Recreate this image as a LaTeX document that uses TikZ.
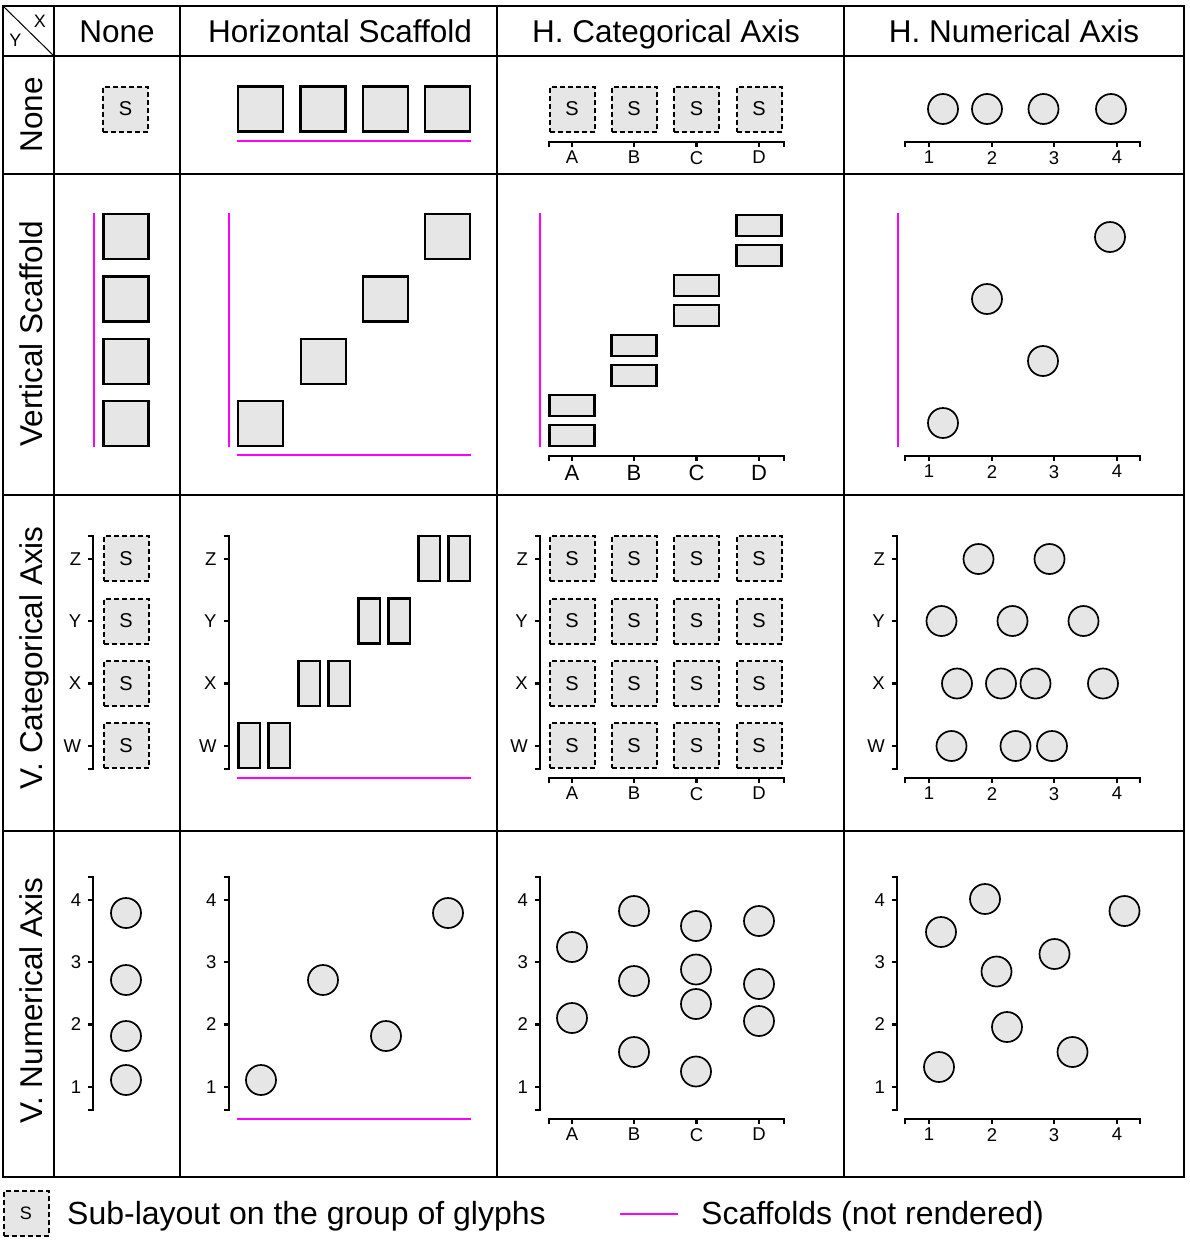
\documentclass[tikz,border=0pt]{standalone}
\usepackage{fontspec}
\setmainfont{Liberation Sans}
\usetikzlibrary{positioning}
\definecolor{glyphgray}{RGB}{230,230,230}
\definecolor{scaffoldpink}{RGB}{255,0,255}
\tikzset{
x=1pt, y=-1pt, % pixel-like units, y grows downwards
glyph/.style={draw, line width=2.2pt, fill=glyphgray, inner sep=0pt, minimum width=45pt, minimum height=45pt}, % a plain glyph
wideglyph/.style={glyph, minimum height=21.5pt}, % half-height glyph
tallglyph/.style={glyph, minimum width=21.5pt}, % half-width glyph
sublayout/.style={draw, line width=2pt, dash pattern=on 5pt off 3pt, fill=glyphgray, inner sep=0pt, minimum width=45pt, minimum height=45pt, font=\fontsize{20}{24}\selectfont}, % group with its own layout
dotglyph/.style={circle, draw, line width=1.7pt, fill=glyphgray, minimum size=30pt, inner sep=0pt},
axisline/.style={line width=2.2pt},
ticklabel/.style={inner sep=0pt, font=\fontsize{18.5}{21}\selectfont},
biglabel/.style={font=\fontsize{22}{24}\selectfont},
scaffold/.style={scaffoldpink, line width=2pt}, % scaffold lines, not rendered
colhead/.style={anchor=base, inner sep=0pt, font=\fontsize{31.5}{36}\selectfont},
rowhead/.style={colhead, rotate=90},
keytext/.style={colhead, anchor=base west, font=\fontsize{32}{36}\selectfont},
gridline/.style={line width=1.4pt},
boldline/.style={line width=2.8pt},
}
% horizontal categorical axis: #1 label style, #2 name prefix, #3 y
\newcommand{\hcataxis}[3][]{%
  \draw[axisline] (549,#3+5) -- (549,#3) -- (784,#3) -- (784,#3+5);
  \foreach \lab/\x in {A/572,B/634,C/696.5,D/759}{
    \draw[axisline] (\x,#3) -- (\x,#3+5);
    \node[ticklabel, #1, anchor=north] (#2-\lab) at (\x,#3+9) {\lab};
  }}
% horizontal numerical axis: #1 name prefix, #2 y
\newcommand{\hnumaxis}[2]{%
  \draw[axisline] (905,#2+5) -- (905,#2) -- (1140,#2) -- (1140,#2+5);
  \foreach \lab/\x in {1/929,2/992,3/1054,4/1117}{
    \draw[axisline] (\x,#2) -- (\x,#2+5);
    \node[ticklabel, anchor=north] (#1-\lab) at (\x,#2+9) {\lab};
  }}
% vertical categorical axis: #1 name prefix, #2 x
\newcommand{\vcataxis}[2]{%
  \draw[axisline] (#2-5,536) -- (#2,536) -- (#2,769) -- (#2-5,769);
  \foreach \lab/\y in {Z/559,Y/621,X/683.5,W/746}{
    \draw[axisline] (#2-5,\y) -- (#2,\y);
    \node[ticklabel, anchor=east] (#1-\lab) at (#2-12,\y) {\lab};
  }}
% vertical numerical axis: #1 name prefix, #2 x
\newcommand{\vnumaxis}[2]{%
  \draw[axisline] (#2-5,877) -- (#2,877) -- (#2,1110) -- (#2-5,1110);
  \foreach \lab/\y in {4/900,3/962,2/1024.5,1/1087}{
    \draw[axisline] (#2-5,\y) -- (#2,\y);
    \node[ticklabel, anchor=east] (#1-\lab) at (#2-12,\y) {\lab};
  }}

\begin{document}
\begin{tikzpicture}
\useasboundingbox (0,0) rectangle (1190,1245);

% Table
\draw[boldline] (3,6) rectangle (1184,1177);
\draw[boldline] (3,56) -- (1184,56);
\draw[boldline] (54,6) -- (54,1177);
\foreach \x in {180,497,844} \draw[gridline] (\x,6) -- (\x,1177);
\foreach \y in {174,495,831} \draw[gridline] (3,\y) -- (1184,\y);
\draw[line width=1pt] (3,6) -- (54,56);
\node[font=\fontsize{18}{20}\selectfont] (corner-x) at (40,21) {X};
\node[font=\fontsize{18}{20}\selectfont] (corner-y) at (15.5,40) {Y};

% Heads
\node[colhead] (head-none) at (117,42) {None};
\node[colhead] (head-hs) at (340,42) {Horizontal Scaffold};
\node[colhead] (head-hcat) at (666,42) {H. Categorical Axis};
\node[colhead] (head-hnum) at (1014,42) {H. Numerical Axis};
\node[rowhead] (row-none) at (42,115) {None};
\node[rowhead] (row-vs) at (42,334) {Vertical Scaffold};
\node[rowhead] (row-vcat) at (42,658) {V. Categorical Axis};
\node[rowhead] (row-vnum) at (42,1001) {V. Numerical Axis};

% Row: None
\node[sublayout] (none-none) at (125.5,109) {S};
\foreach \i/\x in {1/260.5,2/323,3/385.5,4/447.5}
  \node[glyph] (none-hs-\i) at (\x,109) {};
\draw[scaffold] (237,141) -- (471,141);
\foreach \i/\x in {A/572,B/634,C/696.5,D/759}
  \node[sublayout] (none-hcat-\i) at (\x,109) {S};
\hcataxis{none-hcat}{142}
\foreach \i/\x in {1/943,2/987,3/1043.5,4/1111}
  \node[dotglyph] (none-hnum-\i) at (\x,109) {};
\hnumaxis{none-hnum}{142}

% Row: Vertical Scaffold
\draw[scaffold] (94,213) -- (94,447);
\foreach \i/\y in {1/423.5,2/361.3,3/299,4/236.7}
  \node[glyph] (vs-none-\i) at (126,\y) {};
\draw[scaffold] (229,213) -- (229,447);
\draw[scaffold] (237,455) -- (471,455);
\foreach \i/\x/\y in {1/260.5/423.5,2/323.5/361.5,3/385.5/299,4/447.5/236.7}
  \node[glyph] (vs-hs-\i) at (\x,\y) {};
\draw[scaffold] (540,213) -- (540,447);
\foreach \i/\x/\y in {A/572/435.4,B/634/375.4,C/696.5/315.4,D/759/255.4}{
  \node[wideglyph] (vs-hcat-\i1) at (\x,\y) {};
  \node[wideglyph] (vs-hcat-\i2) at (\x,\y-30) {};
}
\hcataxis[biglabel]{vs-hcat}{456}
\draw[scaffold] (898,213) -- (898,447);
\foreach \i/\x/\y in {1/943/423,2/987/299,3/1043/361,4/1110/237}
  \node[dotglyph] (vs-hnum-\i) at (\x,\y) {};
\hnumaxis{vs-hnum}{456}

% Row: V. Categorical Axis
\vcataxis{vcat-none}{93.3}
\foreach \i/\y in {Z/558.5,Y/621,X/683.5,W/745.5}
  \node[sublayout] (vcat-none-\i S) at (126,\y) {S};
\vcataxis{vcat-hs}{228.7}
\foreach \i/\x/\y in {W/249.3/745.7,X/309.3/683.5,Y/369.3/621,Z/429.3/558.7}{
  \node[tallglyph] (vcat-hs-\i1) at (\x,\y) {};
  \node[tallglyph] (vcat-hs-\i2) at (\x+30,\y) {};
}
\draw[scaffold] (237,778) -- (471,778);
\vcataxis{vcat-hcat}{540}
\foreach \r/\y in {Z/558.5,Y/621,X/683.5,W/745.5}
  \foreach \c/\x in {A/572,B/634,C/696.5,D/759}
    \node[sublayout] (vcat-hcat-\c\r) at (\x,\y) {S};
\hcataxis{vcat-hcat}{778}
\vcataxis{vcat-hnum}{897}
\foreach \i/\x/\y in {1/978.5/559,2/1049.5/559,3/941.5/621,4/1012.5/621,5/1083.5/621,
  6/957/683.5,7/1001/683.5,8/1035.5/683.5,9/1103/683.5,10/951.5/746,11/1015.5/746,12/1052/746}
  \node[dotglyph] (vcat-hnum-\i) at (\x,\y) {};
\hnumaxis{vcat-hnum}{778}

% Row: V. Numerical Axis
\vnumaxis{vnum-none}{93.3}
\foreach \i/\y in {1/1080,2/1036,3/980,4/913}
  \node[dotglyph] (vnum-none-\i d) at (126,\y) {};
\vnumaxis{vnum-hs}{228.7}
\foreach \i/\x/\y in {1/261/1080,2/323/980,3/386/1036,4/448/913}
  \node[dotglyph] (vnum-hs-\i d) at (\x,\y) {};
\draw[scaffold] (237,1119) -- (471,1119);
\vnumaxis{vnum-hcat}{540}
\foreach \i/\x/\y in {1/572/947,2/572/1018,3/634/911,4/634/981,5/634/1052,6/696/926,
  7/696/969.5,8/696/1004,9/696/1071.5,10/759/921,11/759/984,12/759/1021}
  \node[dotglyph] (vnum-hcat-\i d) at (\x,\y) {};
\hcataxis{vnum-hcat}{1119}
\vnumaxis{vnum-hnum}{897}
\foreach \i/\x/\y in {1/941/932,2/985/899,3/1124.5/911,4/1054.5/954,5/996.5/971.5,
  6/1007/1027,7/1072.5/1052,8/939/1067}
  \node[dotglyph] (vnum-hnum-\i d) at (\x,\y) {};
\hnumaxis{vnum-hnum}{1119}

% Legend
\node[sublayout, font=\fontsize{18}{20}\selectfont] (key-sub) at (26,1213.7) {S};
\node[keytext] (key-sub-text) at (67,1224) {Sub-layout on the group of glyphs};
\coordinate (key-scaf-a) at (620,1214);
\coordinate (key-scaf-b) at (678,1214);
\draw[scaffold] (key-scaf-a) -- (key-scaf-b);
\node[keytext] (key-scaf-text) at (701,1224) {Scaffolds (not rendered)};
\end{tikzpicture}
\end{document}
